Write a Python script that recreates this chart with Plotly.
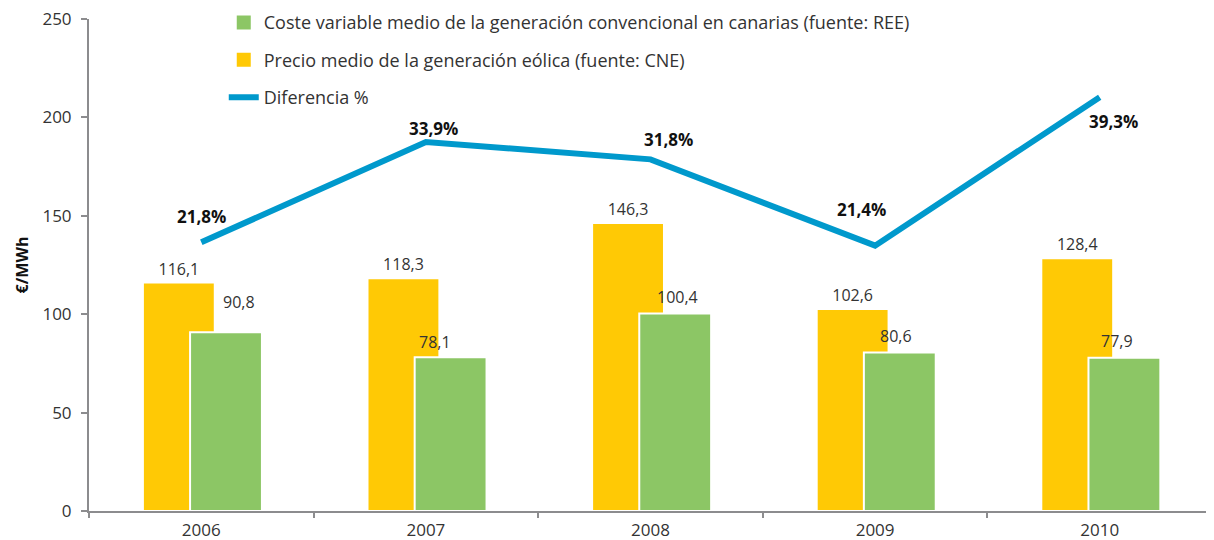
import plotly.graph_objects as go

years = ["2006", "2007", "2008", "2009", "2010"]
precio_eolica = [116.1, 118.3, 146.3, 102.6, 128.4]
coste_convencional = [90.8, 78.1, 100.4, 80.6, 77.9]
diferencia_pct = [21.8, 33.9, 31.8, 21.4, 39.3]

name_coste = "Coste variable medio de la generación convencional en canarias (fuente: REE)"
name_precio = "Precio medio de la generación eólica (fuente: CNE)"
name_dif = "Diferencia %"

YELLOW = "#FFC905"
GREEN = "#8CC665"
BLUE = "#0099CC"
AXIS = "#8C8C8E"
TXT = "#333333"
FONT = "Open Sans"

fig = go.Figure()

fig.add_trace(go.Bar(
    x=years, y=precio_eolica, name=name_precio, showlegend=False,
    marker=dict(color=YELLOW, line=dict(color="white", width=2)),
    offset=-0.26, width=0.32,
    texttemplate="%{y:.1f}", textposition="outside", cliponaxis=False,
    textfont=dict(size=16, color=TXT, family=FONT),
))
fig.add_trace(go.Bar(
    x=years, y=coste_convencional, name=name_coste, showlegend=False,
    marker=dict(color=GREEN, line=dict(color="white", width=2)),
    offset=-0.05, width=0.32,
))
fig.add_trace(go.Scatter(
    x=years, y=diferencia_pct, name=name_dif, yaxis="y2", showlegend=False,
    mode="lines", line=dict(color=BLUE, width=6),
))

# legend entries (larger symbols like the original)
fig.add_trace(go.Scatter(
    x=[None], y=[None], name=name_coste, mode="markers", legendgroup="a",
    marker=dict(symbol="square", size=20, color=GREEN, line=dict(color="white", width=2)),
))
fig.add_trace(go.Scatter(
    x=[None], y=[None], name=name_precio, mode="markers", legendgroup="b",
    marker=dict(symbol="square", size=20, color=YELLOW, line=dict(color="white", width=2)),
))
fig.add_trace(go.Scatter(
    x=[None], y=[None], name=name_dif, mode="lines", legendgroup="c",
    line=dict(color=BLUE, width=6),
))

# value labels of the green bars (placed as in the original)
green_label_shift = [(38, 30), (9, 15), (27, 16), (21, 16), (17, 17)]
for i, (v, (dx, dy)) in enumerate(zip(coste_convencional, green_label_shift)):
    fig.add_annotation(
        x=i, y=v, xref="x", yref="y", text=f"{v:.1f}".replace(".", ","),
        showarrow=False, xshift=dx, yshift=dy,
        font=dict(size=16, color=TXT, family=FONT),
    )

label_shift = [(0, 26), (8, 13), (18, 20), (-14, 36), (14, -24)]
for i, (v, (dx, dy)) in enumerate(zip(diferencia_pct, label_shift)):
    fig.add_annotation(
        x=i, y=v, xref="x", yref="y2",
        text="<b>" + f"{v:.1f}".replace(".", ",") + "%</b>",
        showarrow=False, xshift=dx, yshift=dy,
        font=dict(size=17, color="#111111", family=FONT),
    )

# the page body adds an 8px offset; size the figure to fit the 1214x540 window
fig.update_layout(
    width=1206, height=532,
    margin=dict(l=81, r=2, t=11, b=29, autoexpand=False),
    paper_bgcolor="white", plot_bgcolor="white",
    barmode="overlay", separators=",.",
    font=dict(family=FONT, size=16, color=TXT),
    showlegend=True,
    legend=dict(
        x=0.12, y=1.03, xanchor="left", yanchor="top",
        bgcolor="rgba(255,255,255,0)", font=dict(size=18, color=TXT),
        tracegroupgap=11, traceorder="grouped", itemsizing="trace",
    ),
    xaxis=dict(
        type="category", range=[-0.5, 4.5], showline=True, linecolor=AXIS, linewidth=2,
        ticks="outside", tickson="boundaries", ticklen=5, tickcolor=AXIS, tickwidth=2,
        showgrid=False, automargin=False, tickfont=dict(size=17, color=TXT),
        ticklabelstandoff=3, ticklabeloverflow="allow",
    ),
    yaxis=dict(
        range=[0, 250], tickvals=[0, 50, 100, 150, 200, 250], showline=True,
        linecolor=AXIS, linewidth=2, ticks="outside", ticklen=6, tickcolor=AXIS,
        tickwidth=2, showgrid=False, zeroline=False, automargin=False,
        tickfont=dict(size=17, color=TXT), ticklabelstandoff=6,
        ticklabeloverflow="allow",
        title=dict(text="<b>€/MWh</b>", font=dict(size=16, color="#111111"), standoff=10),
    ),
    yaxis2=dict(
        overlaying="y", range=[-10.58, 48.72], showticklabels=False,
        showline=False, showgrid=False, zeroline=False, ticks="", automargin=False,
    ),
)

fig.write_html("out.html")
